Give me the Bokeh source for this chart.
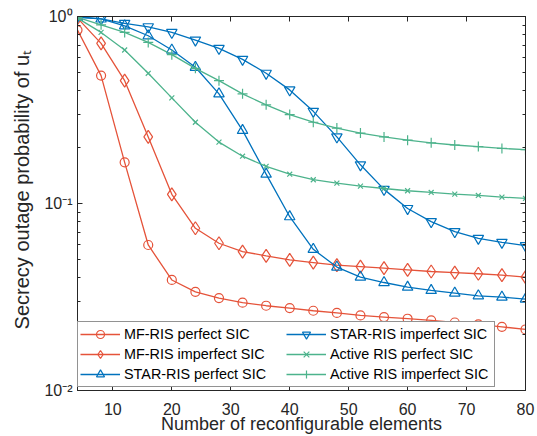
from bokeh.plotting import figure
from bokeh.models import (LinearAxis, LogAxis, FixedTicker, Legend, LegendItem, Range1d)
from bokeh.embed import file_html
from bokeh.resources import INLINE

# ---------------- data ----------------
n_elements = [4, 8, 12, 16, 20, 24, 28, 32, 36, 40, 44, 48, 52, 56, 60, 64, 68, 72, 76, 80]
mf_perfect = [0.846, 0.483, 0.166, 0.060, 0.039, 0.0337, 0.0312, 0.0295, 0.0284, 0.0276,
              0.0267, 0.0260, 0.0252, 0.0247, 0.0242, 0.0237, 0.0231, 0.0226, 0.0219, 0.0212]
mf_imperfect = [0.98, 0.718, 0.454, 0.227, 0.112, 0.0737, 0.0613, 0.0553, 0.0525, 0.0499,
                0.0483, 0.0468, 0.0460, 0.0451, 0.0442, 0.0433, 0.0427, 0.0421, 0.0414, 0.0404]
star_perfect = [0.99, 0.97, 0.892, 0.789, 0.662, 0.535, 0.386, 0.246, 0.1435, 0.085,
                0.0569, 0.0457, 0.0404, 0.0378, 0.0357, 0.0343, 0.0332, 0.0321, 0.0316, 0.0308]
star_imperfect = [0.997, 0.97, 0.918, 0.881, 0.822, 0.748, 0.675, 0.590, 0.497, 0.405,
                  0.311, 0.227, 0.161, 0.119, 0.094, 0.080, 0.0707, 0.0651, 0.0620, 0.0595]
active_perfect = [0.98, 0.822, 0.662, 0.497, 0.367, 0.272, 0.213, 0.179, 0.158, 0.1434,
                  0.134, 0.1285, 0.1238, 0.1203, 0.117, 0.1146, 0.1122, 0.1104, 0.1082, 0.1064]
active_imperfect = [0.99, 0.903, 0.822, 0.727, 0.625, 0.528, 0.454, 0.386, 0.337, 0.299,
                    0.272, 0.253, 0.238, 0.227, 0.218, 0.211, 0.2055, 0.2015, 0.197, 0.194]

series_labels = ["MF-RIS perfect SIC", "MF-RIS imperfect SIC", "STAR-RIS perfect SIC",
                 "STAR-RIS imperfect SIC", "Active RIS perfect SIC", "Active RIS imperfect SIC"]
x_ticks = [10, 20, 30, 40, 50, 60, 70, 80]
y_ticks = [0.01, 0.1, 1.0]
y_tick_labels = ["10\u207b\u00b2", "10\u207b\u00b9", "10\u2070"]
x_label = "Number of reconfigurable elements"
y_label = "\u00a0\u00a0\u00a0\u00a0\u00a0Secrecy outage probability of u\u209c"

RED = "#E5533A"
BLUE = "#0072BD"
GREEN = "#4DB38C"
AX = "#262626"
FONT = "Liberation Sans"

W, H = 537, 436
FL, FR, FT, FB = 77, 12, 16, 45

p = figure(width=W, height=H, y_axis_type="log",
           x_range=Range1d(4, 80), y_range=Range1d(0.01, 1.0),
           output_backend="svg", toolbar_location=None,
           min_border_left=FL, min_border_right=FR, min_border_top=FT, min_border_bottom=FB)
p.xgrid.visible = False
p.ygrid.visible = False
p.outline_line_color = AX
p.background_fill_color = "white"
p.border_fill_color = "white"

minor_y = [m * d for d in (0.01, 0.1) for m in range(2, 10)]


def style_axis(ax, show_labels=True):
    ax.axis_line_color = AX
    ax.axis_line_width = 1
    ax.major_tick_line_color = AX
    ax.minor_tick_line_color = AX
    ax.major_tick_in = 5
    ax.major_tick_out = 0
    ax.minor_tick_in = 3
    ax.minor_tick_out = 0
    ax.major_label_text_font = FONT
    ax.major_label_text_font_size = "16px"
    ax.major_label_text_color = AX
    ax.axis_label_text_font = FONT
    ax.axis_label_text_font_style = "normal"
    ax.axis_label_text_color = AX
    if not show_labels:
        ax.major_label_text_font_size = "0px"
        ax.major_label_standoff = 0
        ax.major_label_text_color = None


# bottom axis
xa = p.xaxis[0]
xa.ticker = FixedTicker(ticks=x_ticks)
style_axis(xa)
xa.minor_tick_in = 0
xa.major_label_standoff = 12
xa.axis_label = x_label
xa.axis_label_text_font_size = "18px"
xa.axis_label_standoff = -4

# left axis
ya = p.yaxis[0]
ya.ticker = FixedTicker(ticks=y_ticks, minor_ticks=minor_y)
style_axis(ya)
ya.major_label_overrides = {t: s for t, s in zip(y_ticks, y_tick_labels)}
ya.major_label_standoff = 5
ya.axis_label = y_label
ya.axis_label_text_font_size = "20px"
ya.axis_label_standoff = 8

# top and right box axes
top = LinearAxis(ticker=FixedTicker(ticks=x_ticks))
style_axis(top, show_labels=False)
top.minor_tick_in = 0
p.add_layout(top, "above")
right = LogAxis(ticker=FixedTicker(ticks=y_ticks, minor_ticks=minor_y))
style_axis(right, show_labels=False)
p.add_layout(right, "right")

# ---------------- series ----------------
specs = [
    (mf_perfect, RED, "circle", 9),
    (mf_imperfect, RED, "diamond", 13),
    (star_perfect, BLUE, "triangle", 10.5),
    (star_imperfect, BLUE, "inverted_triangle", 10.5),
    (active_perfect, GREEN, "x", 7),
    (active_imperfect, GREEN, "cross", 10),
]
items = []
for (vals, col, mk, sz), lab in zip(specs, series_labels):
    lr = p.line(n_elements, vals, line_color=col, line_width=1.3)
    sr = p.scatter(n_elements, vals, marker=mk, size=sz, line_color=col,
                   line_width=1.2, fill_alpha=0)
    items.append(LegendItem(label=lab, renderers=[lr, sr]))

legend = Legend(items=items, location=(0, 3), orientation="vertical", nrows=3,
                border_line_color=AX, border_line_width=1,
                background_fill_color="white", background_fill_alpha=1.0,
                label_text_font=FONT, label_text_font_size="14.4px",
                label_text_color="black",
                glyph_width=40, glyph_height=20, label_height=20, label_width=162,
                label_standoff=4, padding=2, spacing=0, margin=0)
p.add_layout(legend, "center")

open("out.html", "w").write(file_html(p, INLINE))
